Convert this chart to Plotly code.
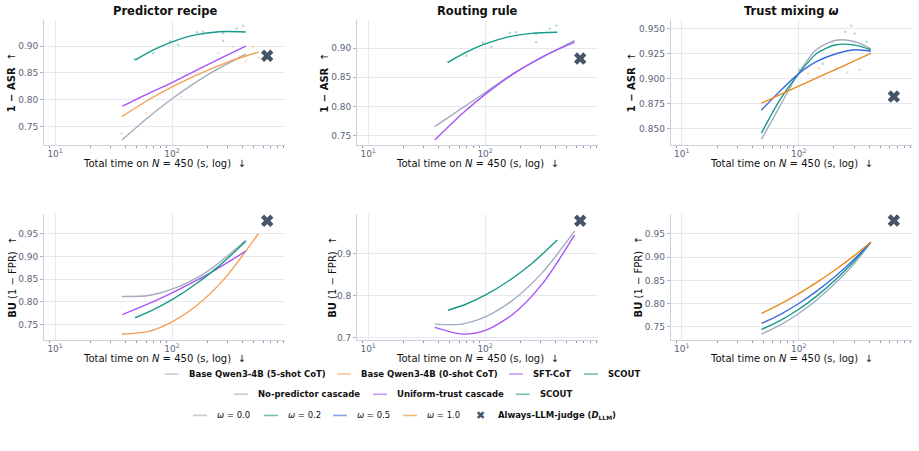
import plotly.graph_objects as go

# ---------------- data (seconds on N=450, metric values) ----------------
# Predictor recipe
pr_base5_t = [37.2, 63.1, 100, 199.5, 426.6]
pr_base5_asr = [0.725, 0.768, 0.802, 0.846, 0.885]
pr_base5_bu = [0.812, 0.814, 0.828, 0.867, 0.936]

pr_base0_t = [37.2, 63.1, 100, 158.5, 281.8, 547]
pr_base0_asr = [0.7685, 0.800, 0.824, 0.845, 0.868, 0.889]
pr_base0_bu = [0.729, 0.735, 0.756, 0.790, 0.852, 0.951]

pr_sft_t = [37.6, 63.1, 100, 199.5, 426.6]
pr_sft_asr = [0.788, 0.812, 0.832, 0.865, 0.900]
pr_sft_bu = [0.772, 0.796, 0.820, 0.860, 0.912]

pr_scout_t = [48.3, 69.2, 100, 158.5, 251.2, 426.6]
pr_scout_asr = [0.874, 0.893, 0.908, 0.921, 0.927, 0.9265]
pr_scout_bu = [0.765, 0.783, 0.805, 0.839, 0.879, 0.934]

# Routing rule
rr_nopred_t = [37.1, 63.1, 100, 171.8, 308.3, 582.1]
rr_nopred_asr = [0.766, 0.797, 0.824, 0.856, 0.884, 0.913]
rr_nopred_bu = [0.732, 0.732, 0.749, 0.789, 0.855, 0.954]

rr_uniform_t = [37.1, 64.6, 100, 171.8, 308.3, 582.1]
rr_uniform_asr = [0.743, 0.789, 0.821, 0.855, 0.885, 0.910]
rr_uniform_bu = [0.724, 0.708, 0.717, 0.755, 0.828, 0.945]

rr_scout_t = [48.1, 69.2, 100, 158.5, 251.2, 414.0]
rr_scout_asr = [0.8756, 0.893, 0.907, 0.919, 0.925, 0.927]
rr_scout_bu = [0.765, 0.780, 0.801, 0.835, 0.877, 0.933]

# Trust mixing omega
tm_t = [47.9, 69.2, 100, 141.3, 208.0, 302.0, 413.0]
tm_w00_asr = [0.839, 0.8726, 0.906, 0.929, 0.9386, 0.937, 0.930]
tm_w02_asr = [0.8453, 0.879, 0.905, 0.925, 0.934, 0.9337, 0.929]
tm_w05_asr = [0.8683, 0.8875, 0.905, 0.917, 0.925, 0.929, 0.9275]
tm_w10_asr = [0.8753, 0.8839, 0.8924, 0.9004, 0.9094, 0.918, 0.9253]
tm_w00_bu = [0.734, 0.7534, 0.7785, 0.8072, 0.8452, 0.8878, 0.932]
tm_w02_bu = [0.7442, 0.7633, 0.7877, 0.8155, 0.8522, 0.8933, 0.932]
tm_w05_bu = [0.757, 0.7763, 0.800, 0.8262, 0.860, 0.8973, 0.932]
tm_w10_bu = [0.7785, 0.7986, 0.8214, 0.8449, 0.8739, 0.9044, 0.932]

# Always-LLM-judge reference point
llm_t = [650]
llm_asr = [0.882]
llm_bu = [0.979]

# faint per-run points
pr_scout_dot_t = [48, 69, 96, 113, 163, 184, 273, 357, 406, 273]
pr_scout_dot_asr = [0.876, 0.887, 0.909, 0.902, 0.926, 0.927, 0.924, 0.933, 0.938, 0.910]
pr_other_dot_t = [37, 60, 120, 249, 334, 380, 426, 490, 550]
pr_other_dot_asr = [0.737, 0.775, 0.805, 0.887, 0.899, 0.881, 0.872, 0.899, 0.878]
tm_hi_dot_t = [100, 160, 250, 280, 300, 380]
tm_hi_dot_asr = [0.909, 0.915, 0.947, 0.953, 0.945, 0.937]
tm_lo_dot_t = [120, 150, 210, 260, 330]
tm_lo_dot_asr = [0.905, 0.910, 0.911, 0.906, 0.909]

# legend entries
legend_rows = [
    ["Base Qwen3-4B (5-shot CoT)", "Base Qwen3-4B (0-shot CoT)", "SFT-CoT", "SCOUT"],
    ["No-predictor cascade", "Uniform-trust cascade", "SCOUT"],
    ["<i>ω</i> = 0.0", "<i>ω</i> = 0.2", "<i>ω</i> = 0.5", "<i>ω</i> = 1.0"],
]
llm_label = "Always-LLM-judge (<i>D</i><sub>LLM</sub>)"

# ---------------- styling ----------------
FONT = "DejaVu Sans"
C_GRAY = "#a2acbd"
C_GRAY2 = "#9eacc2"
C_ORANGE = "#f59f52"
C_PURPLE = "#a855f7"
C_TEAL = "#179a89"
C_BLUE = "#3b6be0"
C_ORANGE2 = "#e88b1e"
C_X = "#475569"
W, H = 919, 451

fig = go.Figure()

xdom = [[0.0479, 0.3101], [0.3885, 0.6507], [0.7298, 0.9920]]
ydom_top = [0.6763, 0.9557]
ydom_bot = [0.2424, 0.5233]

def axname(i):
    return "" if i == 1 else str(i)

def add_line(i, t, y, color, width=1.4):
    fig.add_trace(go.Scatter(x=t, y=y, mode="lines", line=dict(color=color, width=width, shape="spline", smoothing=0.8),
                             xaxis="x" + axname(i), yaxis="y" + axname(i), showlegend=False, hoverinfo="skip"))

def add_dots(i, t, y, color):
    fig.add_trace(go.Scatter(x=t, y=y, mode="markers", marker=dict(color=color, size=2.5, opacity=0.35),
                             xaxis="x" + axname(i), yaxis="y" + axname(i), showlegend=False, hoverinfo="skip"))

def add_llm(i, y):
    fig.add_trace(go.Scatter(x=llm_t, y=y, mode="markers",
                             marker=dict(symbol="x", size=11, color=C_X, line=dict(width=0)),
                             xaxis="x" + axname(i), yaxis="y" + axname(i), showlegend=False, hoverinfo="skip"))

# --- subplot 1: predictor recipe, ASR
add_dots(1, pr_scout_dot_t, pr_scout_dot_asr, C_TEAL)
add_dots(1, pr_other_dot_t, pr_other_dot_asr, C_ORANGE)
add_line(1, pr_base5_t, pr_base5_asr, C_GRAY)
add_line(1, pr_base0_t, pr_base0_asr, C_ORANGE)
add_line(1, pr_sft_t, pr_sft_asr, C_PURPLE)
add_line(1, pr_scout_t, pr_scout_asr, C_TEAL)
add_llm(1, llm_asr)
# --- subplot 2: routing rule, ASR
add_dots(2, pr_scout_dot_t, pr_scout_dot_asr, C_TEAL)
add_line(2, rr_nopred_t, rr_nopred_asr, C_GRAY2)
add_line(2, rr_uniform_t, rr_uniform_asr, C_PURPLE)
add_line(2, rr_scout_t, rr_scout_asr, C_TEAL)
add_llm(2, llm_asr)
# --- subplot 3: trust mixing, ASR
add_dots(3, tm_hi_dot_t, tm_hi_dot_asr, C_TEAL)
add_dots(3, tm_lo_dot_t, tm_lo_dot_asr, C_ORANGE2)
add_line(3, tm_t, tm_w00_asr, C_GRAY)
add_line(3, tm_t, tm_w02_asr, C_TEAL)
add_line(3, tm_t, tm_w05_asr, C_BLUE)
add_line(3, tm_t, tm_w10_asr, C_ORANGE2)
add_llm(3, llm_asr)
# --- subplot 4: predictor recipe, BU
add_line(4, pr_base5_t, pr_base5_bu, C_GRAY)
add_line(4, pr_base0_t, pr_base0_bu, C_ORANGE)
add_line(4, pr_sft_t, pr_sft_bu, C_PURPLE)
add_line(4, pr_scout_t, pr_scout_bu, C_TEAL)
add_llm(4, llm_bu)
# --- subplot 5: routing rule, BU
add_line(5, rr_nopred_t, rr_nopred_bu, C_GRAY2)
add_line(5, rr_uniform_t, rr_uniform_bu, C_PURPLE)
add_line(5, rr_scout_t, rr_scout_bu, C_TEAL)
add_llm(5, llm_bu)
# --- subplot 6: trust mixing, BU
add_line(6, tm_t, tm_w00_bu, C_GRAY)
add_line(6, tm_t, tm_w02_bu, C_TEAL)
add_line(6, tm_t, tm_w05_bu, C_BLUE)
add_line(6, tm_t, tm_w10_bu, C_ORANGE2)
add_llm(6, llm_bu)

# ---------------- axes ----------------
grid = "#e6e8ee"
axline = "#c9d1dd"
tickc = "#5b6577"
xtitle = "Total time on <i>N</i> = 450 (s, log)  ↓"
xrange_log = [0.905, 2.965]
minor_vals = [k * 10 ** e for e in (0, 1, 2) for k in range(2, 10)]

layout_axes = {}
yspecs = {
    1: dict(range=[0.715, 0.949], tickvals=[0.75, 0.80, 0.85, 0.90], tickformat=".2f", title="<b>1 − ASR</b>  ↑", off=32.3),
    2: dict(range=[0.734, 0.948], tickvals=[0.75, 0.80, 0.85, 0.90], tickformat=".2f", title="<b>1 − ASR</b>  ↑", off=32),
    3: dict(range=[0.833, 0.959], tickvals=[0.850, 0.875, 0.900, 0.925, 0.950], tickformat=".3f", title="<b>1 − ASR</b>  ↑", off=39),
    4: dict(range=[0.7155, 0.994], tickvals=[0.75, 0.80, 0.85, 0.90, 0.95], tickformat=".2f", title="<b>BU</b> (1 − FPR)  ↑", off=32.3),
    5: dict(range=[0.6936, 0.995], tickvals=[0.7, 0.8, 0.9], tickformat=".1f", title="<b>BU</b> (1 − FPR)  ↑", off=25.3),
    6: dict(range=[0.721, 0.993], tickvals=[0.75, 0.80, 0.85, 0.90, 0.95], tickformat=".2f", title="<b>BU</b> (1 − FPR)  ↑", off=32.4),
}
annotations = []
for i in range(1, 7):
    col = (i - 1) % 3
    row = (i - 1) // 3
    ydom = ydom_top if row == 0 else ydom_bot
    n = axname(i)
    layout_axes["xaxis" + n] = dict(
        type="log", range=xrange_log, domain=xdom[col], anchor="y" + n,
        tickmode="array", tickvals=[10, 100], ticktext=["10<sup>1</sup>", "10<sup>2</sup>"],
        showgrid=True, gridcolor=grid, gridwidth=1, zeroline=False,
        showline=True, linecolor=axline, linewidth=1, ticks="", ticklabelstandoff=0,
        minor=dict(tickmode="array", tickvals=minor_vals, ticks="outside", ticklen=2, tickcolor="#8a94a6", showgrid=False),
        tickfont=dict(family=FONT, size=9, color=tickc),
    )
    ys = yspecs[i]
    layout_axes["yaxis" + n] = dict(
        range=ys["range"], domain=ydom, anchor="x" + n, tickvals=ys["tickvals"], tickformat=ys["tickformat"],
        showgrid=True, gridcolor=grid, gridwidth=1, zeroline=False,
        showline=True, linecolor=axline, linewidth=1, ticks="outside", ticklen=3, tickcolor="#b0b8c4",
        tickfont=dict(family=FONT, size=9, color=tickc),
    )
    # axis titles
    xt_y = 164.5 if row == 0 else 360.5
    annotations.append(dict(text=xtitle, x=(xdom[col][0] + xdom[col][1]) / 2, y=1 - xt_y / H,
                            xref="paper", yref="paper", xanchor="center", yanchor="middle", showarrow=False,
                            font=dict(family=FONT, size=10, color="#111111")))
    yc = (ydom[0] + ydom[1]) / 2
    annotations.append(dict(text=ys["title"], x=xdom[col][0] - ys["off"] / W, y=yc, textangle=-90,
                            xref="paper", yref="paper", xanchor="center", yanchor="middle", showarrow=False,
                            font=dict(family=FONT, size=10, color="#111111")))

titles = ["<b>Predictor recipe</b>", "<b>Routing rule</b>", "<b>Trust mixing <i>ω</i></b>"]
for c in range(3):
    annotations.append(dict(text=titles[c], x=(xdom[c][0] + xdom[c][1]) / 2, y=1 - 11 / H,
                            xref="paper", yref="paper", xanchor="center", yanchor="middle", showarrow=False,
                            font=dict(family=FONT, size=11.5, color="#111111")))

# ---------------- legend (three centered rows) ----------------
legend_colors = [
    [C_GRAY, C_ORANGE, C_PURPLE, C_TEAL],
    [C_GRAY2, C_PURPLE, C_TEAL],
    [C_GRAY, C_TEAL, C_BLUE, C_ORANGE2],
]
legend_text_x = [
    [186.7, 359.0, 531.0, 606.0],
    [256.0, 395.0, 537.7],
    [215.0, 286.0, 355.0, 425.0],
]
legend_row_y = [375.7, 396.0, 417.3]
shapes = []
for r, labels in enumerate(legend_rows):
    yy = 1 - legend_row_y[r] / H
    for k, lab in enumerate(labels):
        tx = legend_text_x[r][k]
        shapes.append(dict(type="line", xref="paper", yref="paper", x0=(tx - 22) / W, x1=(tx - 8) / W,
                           y0=yy, y1=yy, line=dict(color=legend_colors[r][k], width=1.6), opacity=0.6))
        txt = lab if r == 2 else "<b>" + lab + "</b>"
        annotations.append(dict(text=txt, x=tx / W, y=yy, xref="paper", yref="paper",
                                xanchor="left", yanchor="middle", showarrow=False,
                                font=dict(family=FONT, size=8.5, color="#111111")))
yy = 1 - legend_row_y[2] / H
annotations.append(dict(text="✖", x=480 / W, y=yy, xref="paper", yref="paper", xanchor="center", yanchor="middle",
                        showarrow=False, font=dict(family=FONT, size=11, color=C_X)))
annotations.append(dict(text="<b>" + llm_label + "</b>", x=495.7 / W, y=yy, xref="paper", yref="paper",
                        xanchor="left", yanchor="middle", showarrow=False,
                        font=dict(family=FONT, size=8.5, color="#111111")))

fig.update_layout(
    width=W, height=H, margin=dict(l=0, r=0, t=0, b=0),
    paper_bgcolor="white", plot_bgcolor="white",
    font=dict(family=FONT, size=10, color="#111111"),
    showlegend=False,
    annotations=annotations, shapes=shapes,
    **layout_axes,
)

fig.write_html("out.html")
